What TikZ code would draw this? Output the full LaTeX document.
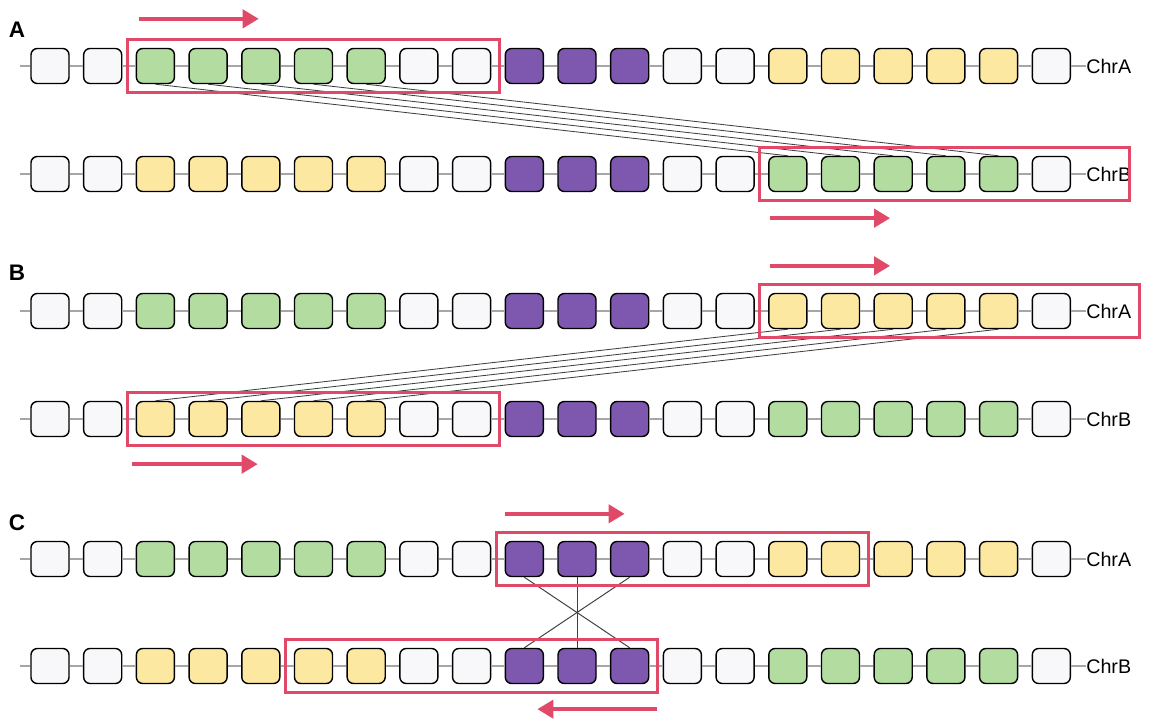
\documentclass[tikz,border=0pt]{standalone}
\usepackage{fontspec}
\setmainfont{Liberation Sans}
\usepackage{xcolor}
\usetikzlibrary{arrows.meta,positioning,fit}

\definecolor{gnone}{HTML}{F8F8FA}
\definecolor{ggreen}{HTML}{B3DCA0}
\definecolor{gyellow}{HTML}{FDE8A2}
\definecolor{gpurple}{HTML}{7E57AE}
\definecolor{hlred}{HTML}{E04A68}

% gene order on the two chromosomes
\def\chrApat{1/gnone,2/gnone,3/ggreen,4/ggreen,5/ggreen,6/ggreen,7/ggreen,8/gnone,9/gnone,10/gpurple,11/gpurple,12/gpurple,13/gnone,14/gnone,15/gyellow,16/gyellow,17/gyellow,18/gyellow,19/gyellow,20/gnone}
\def\chrBpat{1/gnone,2/gnone,3/gyellow,4/gyellow,5/gyellow,6/gyellow,7/gyellow,8/gnone,9/gnone,10/gpurple,11/gpurple,12/gpurple,13/gnone,14/gnone,15/ggreen,16/ggreen,17/ggreen,18/ggreen,19/ggreen,20/gnone}

\begin{document}
\begin{tikzpicture}[
  x=0.025cm, y=-0.025cm,
  gene/.style={draw, rounded corners=4.5pt, minimum width=0.95cm, minimum height=0.875cm, inner sep=0pt, line width=1pt},
  link/.style={draw=black!35, line width=1pt},
  chr/.style={anchor=west, inner sep=0pt, font=\fontsize{14}{16}\selectfont},
  panel/.style={font=\fontsize{16}{18}\selectfont\bfseries, inner sep=0pt},
  hl/.style={draw=hlred, line width=2.2pt, inner sep=0.21cm},
  redarr/.style={draw=hlred, line width=3pt, -{Triangle[length=0.4cm, width=0.45cm]}},
  syn/.style={draw=black!75, line width=0.6pt}
]
\useasboundingbox (0,0) rectangle (1166,723);

% chromosome A rows
\foreach \row/\y in {aA/66, bA/311, cA/559} {
  \foreach \i/\c in \chrApat
    \node[gene, fill=\c] (\row-\i) at ({50+52.7*(\i-1)}, \y) {};
  \coordinate (\row-0) at (20, \y);
  \node[chr] (\row-lab) at (1086, \y) {ChrA};
}
% chromosome B rows
\foreach \row/\y in {aB/174, bB/419, cB/666} {
  \foreach \i/\c in \chrBpat
    \node[gene, fill=\c] (\row-\i) at ({50+52.7*(\i-1)}, \y) {};
  \coordinate (\row-0) at (20, \y);
  \node[chr] (\row-lab) at (1086, \y) {ChrB};
}
\foreach \row in {aA, aB, bA, bB, cA, cB} {
  \foreach \i [count=\j from 1] in {0,...,19}
    \draw[link] (\row-\i) -- (\row-\j);
  \draw[link] (\row-20) -- (\row-lab);
}

\node[panel] (labA) at (17, 30) {A};
\node[panel] (labB) at (17, 273) {B};
\node[panel] (labC) at (17, 523) {C};

% A: green block moved
\foreach \i [evaluate=\i as \j using int(\i+12)] in {3,...,7}
  \draw[syn] (aA-\i.south) -- (aB-\j.north);
\coordinate (aB-end) at ([xshift=-0.25cm]aB-lab.east);
\node[hl, fit=(aA-3)(aA-9)] (aA-hl) {};
\node[hl, fit=(aB-15)(aB-end)] (aB-hl) {};
\draw[redarr] ([shift={(13,-19)}]aA-hl.north west) -- ++(120,0);
\draw[redarr] ([shift={(12,16)}]aB-hl.south west) -- ++(120,0);

% B: yellow block moved
\foreach \i [evaluate=\i as \j using int(\i+12)] in {3,...,7}
  \draw[syn] (bB-\i.north) -- (bA-\j.south);
\node[hl, fit=(bA-15)(bA-lab)] (bA-hl) {};
\node[hl, fit=(bB-3)(bB-9)] (bB-hl) {};
\draw[redarr] ([shift={(12,-17)}]bA-hl.north west) -- ++(120,0);
\draw[redarr] ([shift={(6,17)}]bB-hl.south west) -- ++(126,0);

% C: purple block inverted
\draw[syn, line width=0.7pt] (cA-10.south) -- (cB-12.north);
\draw[syn, line width=0.7pt] (cA-11.south) -- (cB-11.north);
\draw[syn, line width=0.7pt] (cA-12.south) -- (cB-10.north);
\node[hl, fit=(cA-10)(cA-16)] (cA-hl) {};
\node[hl, fit=(cB-6)(cB-12)] (cB-hl) {};
\draw[redarr] ([shift={(10,-17)}]cA-hl.north west) -- ++(120,0);
\draw[redarr] ([shift={(-2,15)}]cB-hl.south east) -- ++(-120,0);
\end{tikzpicture}
\end{document}
